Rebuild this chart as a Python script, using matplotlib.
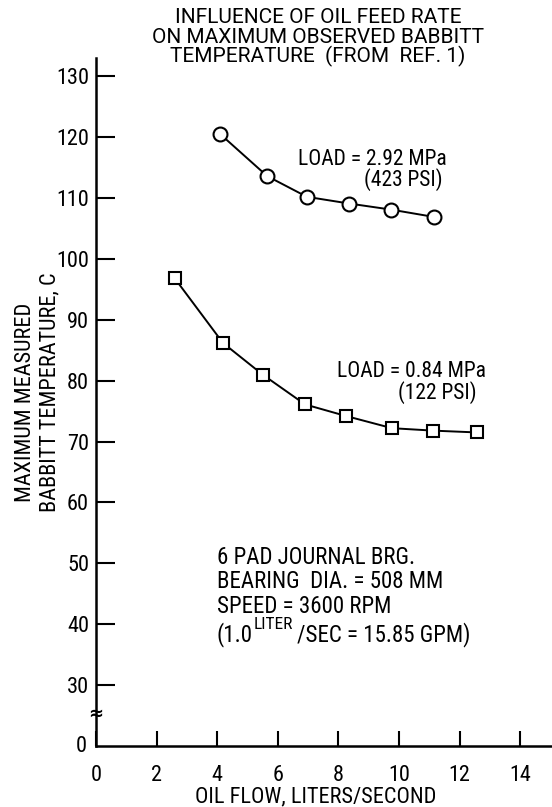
import matplotlib
matplotlib.use("Agg")
import matplotlib.pyplot as plt

FONT = ['Roboto Condensed', 'DejaVu Sans']
plt.rcParams['font.family'] = FONT

# data
flow_high = [4.1, 5.65, 6.96, 8.35, 9.74, 11.15]
temp_high = [120.5, 113.6, 110.2, 109.1, 108.1, 106.9]
flow_low = [2.6, 4.19, 5.5, 6.9, 8.25, 9.77, 11.12, 12.57]
temp_low = [96.8, 86.2, 81.0, 76.1, 74.2, 72.2, 71.8, 71.5]

xticks = [0, 2, 4, 6, 8, 10, 12, 14]
yticks = [30, 40, 50, 60, 70, 80, 90, 100, 110, 120, 130]
# the axis bottom (plotted at 20) is labelled 0 because of the broken scale
y_break_base = 20

W, H = 552, 807
fig = plt.figure(figsize=(W / 100, H / 100), dpi=100)
ax = fig.add_axes([96 / W, (H - 746) / H, (552 - 96) / W, (746 - 58) / H])
ax.set_xlim(0, 15.05)
ax.set_ylim(y_break_base, 133)

ax.plot(flow_high, temp_high, color='black', lw=1.4, marker='o', ms=10,
        mfc='white', mec='black', mew=1.5)
ax.plot(flow_low, temp_low, color='black', lw=1.4, marker='s', ms=9,
        mfc='white', mec='black', mew=1.5)

for s in ['top', 'right']:
    ax.spines[s].set_visible(False)
for s in ['left', 'bottom']:
    ax.spines[s].set_linewidth(1.8)

ax.set_xticks(xticks)
ax.set_xticklabels([str(v) for v in xticks])
ax.set_yticks(yticks)
ax.set_yticklabels([str(v) for v in yticks])
ax.tick_params(axis='x', direction='in', length=11, width=1.5, pad=14, labelsize=16)
ax.tick_params(axis='y', direction='in', length=14, width=1.5, pad=5, labelsize=16)

# zero label for the broken y axis
ax.text(-0.3, y_break_base, '0', ha='right', va='center', fontsize=16)
# break mark
ax.text(0, 25.3, '≈', ha='center', va='center', fontsize=13,
        family=['DejaVu Sans'], fontweight='bold')

# annotations
ax.text(6.67, 115.4, 'LOAD = 2.92 MPa', ha='left', va='baseline', fontsize=15.5)
ax.text(11.45, 112.0, '(423 PSI)', ha='right', va='baseline', fontsize=15.5)
ax.text(7.95, 80.6, 'LOAD = 0.84 MPa', ha='left', va='baseline', fontsize=15.5)
ax.text(12.57, 77.0, '(122 PSI)', ha='right', va='baseline', fontsize=15.5)

ax.text(3.99, 49.9, '6 PAD JOURNAL BRG.', ha='left', va='baseline', fontsize=16.5)
ax.text(3.99, 46.0, 'BEARING  DIA. = 508 MM', ha='left', va='baseline', fontsize=16.5)
ax.text(3.99, 41.9, 'SPEED = 3600 RPM', ha='left', va='baseline', fontsize=16.5)
ax.text(3.99, 37.2, '(1.0', ha='left', va='baseline', fontsize=16.5)
ax.text(5.2, 39.2, 'LITER', ha='left', va='baseline', fontsize=12.5)
ax.text(6.62, 37.2, '/SEC = 15.85 GPM)', ha='left', va='baseline', fontsize=16.5)

# title
for txt, yb in [('INFLUENCE OF OIL FEED RATE', 23),
                ('ON MAXIMUM OBSERVED BABBITT', 43),
                ('TEMPERATURE  (FROM  REF. 1)', 62)]:
    fig.text(318 / W, 1 - yb / H, txt, ha='center', va='baseline', fontsize=15,
             family=['Roboto', 'DejaVu Sans'])

# y label
fig.text(26 / W, 1 - 402 / H, 'MAXIMUM MEASURED', rotation=90,
         ha='center', va='center', fontsize=16)
fig.text(50 / W, 1 - 392 / H, 'BABBITT TEMPERATURE, C', rotation=90,
         ha='center', va='center', fontsize=16)
# x label
fig.text(316 / W, 1 - 802 / H, 'OIL FLOW, LITERS/SECOND', ha='center',
         va='baseline', fontsize=16)

fig.savefig('out.png', dpi=100, facecolor='white')
